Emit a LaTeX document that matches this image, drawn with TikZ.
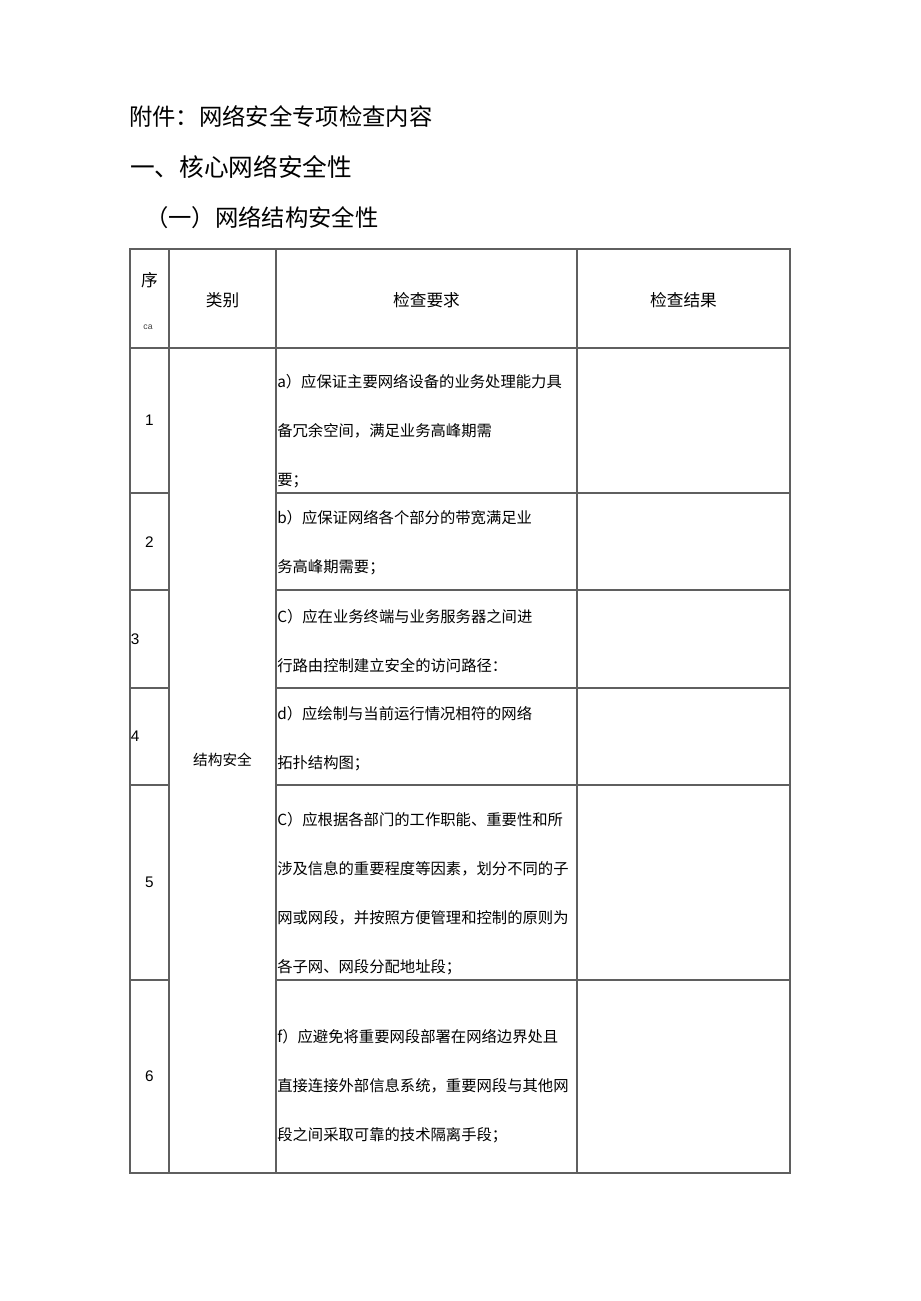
\documentclass[tikz,border=0pt]{standalone}
\usepackage{fontspec}
\setmainfont{Liberation Sans}
\newfontfamily\cjk{Noto Sans CJK SC}
\definecolor{rulegray}{RGB}{95,95,95}
\tikzset{
  rule/.style={rulegray, line width=0.8pt},
  heading/.style={anchor=west, inner sep=0pt, font=\cjk\fontsize{17.5}{20}\selectfont},
  headcell/.style={inner sep=0pt, font=\cjk\fontsize{12.5}{15}\selectfont},
  itemtext/.style={anchor=west, align=left, inner sep=0pt, font=\cjk\fontsize{11.5}{36.75}\selectfont},
  numtext/.style={inner sep=0pt, font=\fontsize{11.5}{14}\selectfont},
}

\begin{document}
\begin{tikzpicture}[x=0.75pt,y=-0.75pt]

\useasboundingbox (0,0) rectangle (920,1301);

% headings
\node[heading] (title) at (129,117) {附件：网络安全专项检查内容};
\node[heading, font=\cjk\fontsize{18.5}{20}\selectfont] (sec) at (130,167) {一、核心网络安全性};
\node[heading] (subsec) at (145,218) {（一）网络结构安全性};

% table frame
\coordinate (tl) at (130,249);
\coordinate (br) at (790,1173);
\draw[rule] (tl) rectangle (br);
\foreach \x in {169,276,577}
  \draw[rule] (\x,249) -- (\x,1173);
\foreach \y in {348,493,590,688,785,980}{
  \draw[rule] (130,\y) -- (169,\y);
  \draw[rule] (276,\y) -- (790,\y);
}
\draw[rule] (169,348) -- (276,348);

% header row
\node[headcell] (hnum) at (149.5,280) {\cjk 序};
\node[inner sep=0pt, font=\fontsize{6.5}{7}\selectfont, black!75] (hnumb) at (148,327) {ca};
\node[headcell] (hcat) at (222.5,300) {类别};
\node[headcell] (hreq) at (426.5,300) {检查要求};
\node[headcell] (hres) at (683.5,300) {检查结果};

% numbers
\foreach \num/\y in {1/420.5,2/542,5/882.5,6/1076.5}
  \node[numtext] (n\num) at (149.5,\y) {\num};
\node[numtext, anchor=west] (n3) at (130.5,639) {3};
\node[numtext, anchor=west] (n4) at (130.5,736.5) {4};

% category
\node[inner sep=0pt, font=\cjk\fontsize{11}{14}\selectfont] (cat) at (222.5,760) {结构安全};

% requirements
\node[itemtext] (req1) at (277,431) {a）应保证主要网络设备的业务处理能力具\\备冗余空间，满足业务高峰期需\\要；};
\node[itemtext] (req2) at (277,543) {b）应保证网络各个部分的带宽满足业\\务高峰期需要；};
\node[itemtext] (req3) at (277,641) {C）应在业务终端与业务服务器之间进\\行路由控制建立安全的访问路径：};
\node[itemtext] (req4) at (277,739) {d）应绘制与当前运行情况相符的网络\\拓扑结构图；};
\node[itemtext] (req5) at (277,894) {C）应根据各部门的工作职能、重要性和所\\涉及信息的重要程度等因素，划分不同的子\\网或网段，并按照方便管理和控制的原则为\\各子网、网段分配地址段；};
\node[itemtext] (req6) at (277,1086) {f）应避免将重要网段部署在网络边界处且\\直接连接外部信息系统，重要网段与其他网\\段之间采取可靠的技术隔离手段；};

\end{tikzpicture}
\end{document}
